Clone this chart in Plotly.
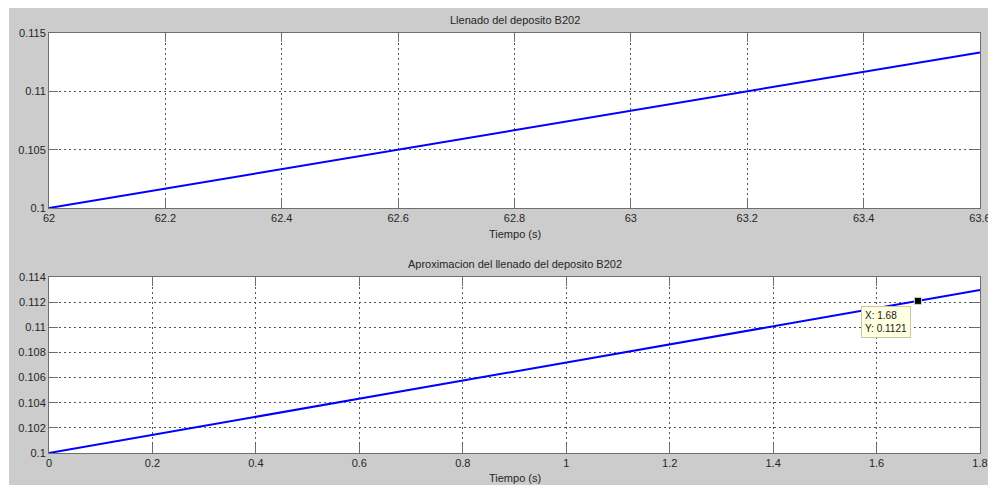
import plotly.graph_objects as go
from plotly.subplots import make_subplots

# Measured tank level, B202 fill
t_fill = [62.0, 62.4, 62.8, 63.2, 63.6]
level_fill = [0.1, 0.10333, 0.10667, 0.11, 0.11334]

# Approximated fill curve
t_approx = [0.0, 0.4, 0.8, 1.2, 1.68, 1.8]
level_approx = [0.1, 0.10288, 0.10576, 0.10864, 0.1121, 0.11296]

# Data cursor on the approximation
tip_x = 1.68
tip_y = 0.1121

# Tick labels
top_xticks = [62, 62.2, 62.4, 62.6, 62.8, 63, 63.2, 63.4, 63.6]
top_xlabels = ["62", "62.2", "62.4", "62.6", "62.8", "63", "63.2", "63.4", "63.6"]
top_yticks = [0.1, 0.105, 0.11, 0.115]
top_ylabels = ["0.1", "0.105", "0.11", "0.115"]
bot_xticks = [0, 0.2, 0.4, 0.6, 0.8, 1, 1.2, 1.4, 1.6, 1.8]
bot_xlabels = ["0", "0.2", "0.4", "0.6", "0.8", "1", "1.2", "1.4", "1.6", "1.8"]
bot_yticks = [0.1, 0.102, 0.104, 0.106, 0.108, 0.11, 0.112, 0.114]
bot_ylabels = ["0.1", "0.102", "0.104", "0.106", "0.108", "0.11", "0.112", "0.114"]

W, H = 988, 485
ML, MR, MT, MB = 49, 8, 33, 32
PW = W - ML - MR
PH = H - MT - MB

FONT = "Liberation Sans, Arial, sans-serif"
TXT = "#262626"
AXC = "#6e6e6e"
GRID = "#555555"

fig = make_subplots(rows=2, cols=1)

fig.add_trace(go.Scatter(x=t_fill, y=level_fill, mode="lines",
                         line=dict(color="#0000ff", width=2),
                         showlegend=False, hoverinfo="skip"), row=1, col=1)
fig.add_trace(go.Scatter(x=t_approx, y=level_approx, mode="lines",
                         line=dict(color="#0000ff", width=2),
                         showlegend=False, hoverinfo="skip"), row=2, col=1)
fig.add_trace(go.Scatter(x=[tip_x], y=[tip_y], mode="markers",
                         marker=dict(symbol="square", size=7, color="black",
                                     line=dict(color="#d8d8b0", width=1)),
                         showlegend=False, hoverinfo="skip", cliponaxis=False),
              row=2, col=1)

top_dom = [(H - MB - 208) / PH, 1.0]
bot_dom = [0.0, (H - MB - 277) / PH]

axis_common = dict(
    showline=True, linecolor=AXC, linewidth=1, mirror="ticks",
    ticks="inside", ticklen=9, tickwidth=1, tickcolor=AXC,
    showgrid=True, gridcolor=GRID, gridwidth=1, griddash="2px,3px",
    zeroline=False, tickfont=dict(family=FONT, size=11, color=TXT),
    tickmode="array", automargin=False, ticklabeloverflow="allow",
)

fig.update_xaxes(**axis_common, range=[62, 63.6], tickvals=top_xticks,
                 ticktext=top_xlabels, row=1, col=1)
fig.update_yaxes(**axis_common, range=[0.1, 0.115], tickvals=top_yticks,
                 ticktext=top_ylabels, domain=top_dom, row=1, col=1)
fig.update_xaxes(**axis_common, range=[0, 1.8], tickvals=bot_xticks,
                 ticktext=bot_xlabels, row=2, col=1)
fig.update_yaxes(**axis_common, range=[0.1, 0.114], tickvals=bot_yticks,
                 ticktext=bot_ylabels, domain=bot_dom, row=2, col=1)


def py(pix):
    """Vertical pixel position (from top) to paper coordinate."""
    return (H - MB - pix) / PH


def px(pix):
    """Horizontal pixel position (from left) to paper coordinate."""
    return (pix - ML) / PW


anns = [
    dict(text="Llenado del deposito B202", x=0.5, y=py(20)),
    dict(text="Tiempo (s)", x=0.5, y=py(234)),
    dict(text="Aproximacion del llenado del deposito B202", x=0.5, y=py(264)),
    dict(text="Tiempo (s)", x=0.5, y=py(478)),
]
for a in anns:
    fig.add_annotation(xref="paper", yref="paper", showarrow=False,
                       xanchor="center", yanchor="middle",
                       font=dict(family=FONT, size=11, color=TXT), **a)

# Data cursor label
fig.add_annotation(xref="x2", yref="y2", x=tip_x, y=tip_y,
                   text=f"X: {tip_x}<br>Y: {tip_y}", showarrow=False,
                   xanchor="right", yanchor="top", xshift=-7, yshift=-5,
                   align="left", bgcolor="#ffffe1", bordercolor="#c8c8a0",
                   borderwidth=1, borderpad=3,
                   font=dict(family=FONT, size=10, color="#202020"))

# White border strips outside the gray figure area
fig.add_shape(type="rect", xref="paper", yref="paper", layer="above",
              x0=px(0), x1=px(9), y0=py(H), y1=py(0),
              fillcolor="white", line=dict(width=0))
fig.add_shape(type="rect", xref="paper", yref="paper", layer="above",
              x0=px(0), x1=px(W), y0=py(8), y1=py(0),
              fillcolor="white", line=dict(width=0))

fig.update_layout(
    width=W, height=H,
    margin=dict(l=ML, r=MR, t=MT, b=MB, autoexpand=False),
    paper_bgcolor="#cccccc", plot_bgcolor="white",
    showlegend=False,
)

fig.write_html("out.html")
